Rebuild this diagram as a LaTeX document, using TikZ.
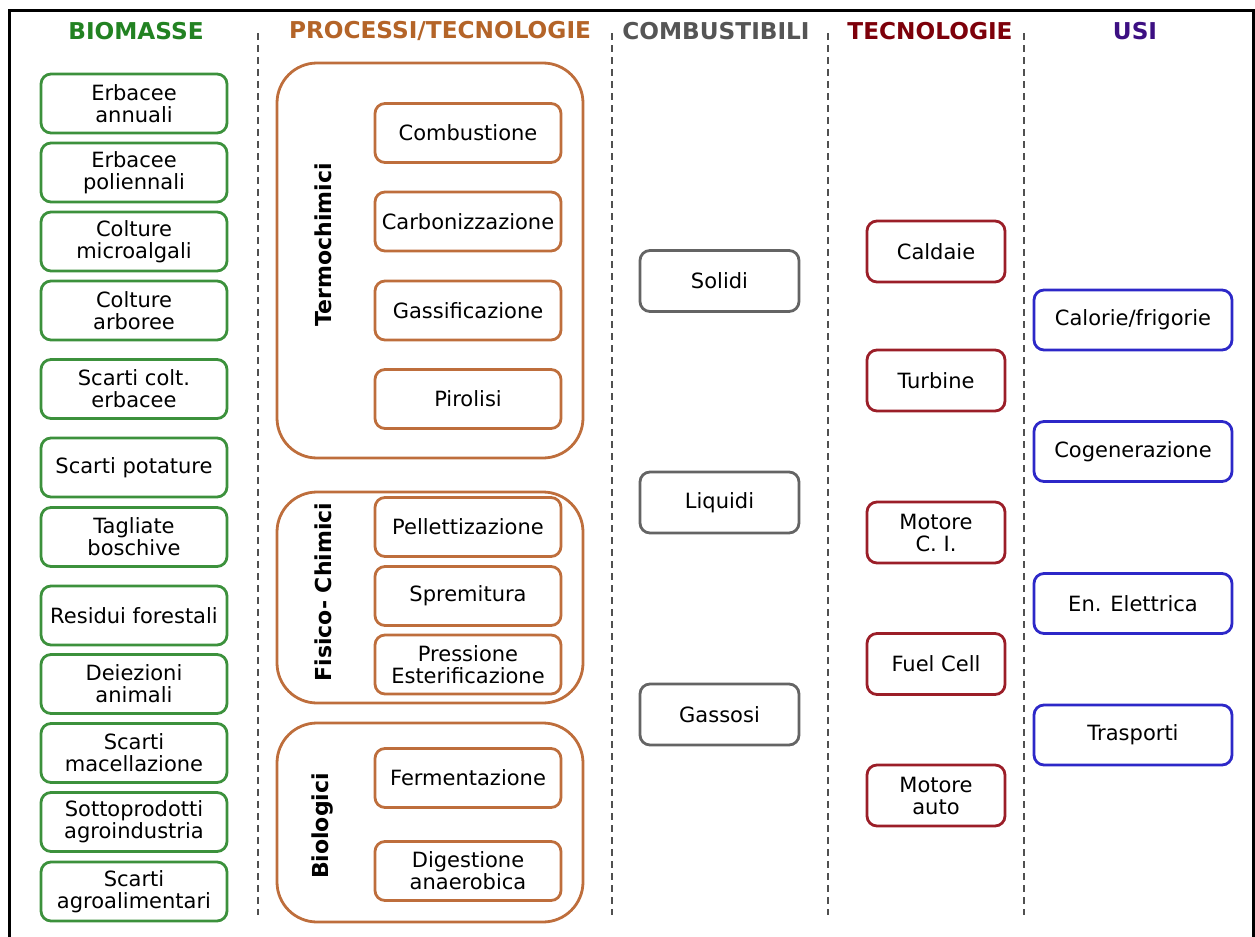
\documentclass[tikz,border=0pt]{standalone}
\usepackage{fontspec}
\setmainfont{DejaVu Sans}
\definecolor{biohead}{RGB}{34,130,34}
\definecolor{bioline}{RGB}{60,145,60}
\definecolor{prochead}{RGB}{180,100,40}
\definecolor{procline}{RGB}{190,110,60}
\definecolor{fuelhead}{RGB}{85,85,85}
\definecolor{fuelline}{RGB}{100,100,100}
\definecolor{techhead}{RGB}{125,0,10}
\definecolor{techline}{RGB}{155,30,40}
\definecolor{usehead}{RGB}{60,15,130}
\definecolor{useline}{RGB}{45,40,200}
\definecolor{sepgray}{RGB}{80,80,80}
\newcommand{\bxfont}{\fontsize{10.5}{11}\selectfont}
\newcommand{\hdfont}{\fontsize{11.6}{12}\selectfont\bfseries}
\begin{document}
\begin{tikzpicture}[x=0.5pt, y=-0.5pt,
    box/.style={draw, fill=white, rounded corners=5pt, line width=1.4pt, align=center, inner sep=0pt, font=\bxfont},
    biobox/.style={box, draw=bioline, minimum width=93pt, minimum height=29.5pt},
    procbox/.style={box, draw=procline, minimum width=93pt, minimum height=29.5pt},
    fuelbox/.style={box, draw=fuelline, minimum width=79.5pt, minimum height=30.5pt},
    techbox/.style={box, draw=techline, minimum width=69pt, minimum height=30.5pt},
    usebox/.style={box, draw=useline, minimum width=99pt, minimum height=30pt},
    group/.style={draw=procline, rounded corners=20pt, line width=1.4pt},
    grouplabel/.style={rotate=90, font=\fontsize{11}{12}\selectfont\bfseries},
    head/.style={font=\hdfont},
    sep/.style={draw=sepgray, line width=1pt, dash pattern=on 3.5pt off 2.5pt}]
  \useasboundingbox (0,0) rectangle (1255,937);
  \draw[line width=1.5pt] (9,937) -- (9,10) -- (1253,10) -- (1253,937);

  % column separators
  \foreach \xs in {258,612,828,1024}
    \draw[sep] (\xs,33) -- (\xs,915);

  % headers
  \node[head, biohead] (hbio) at (136,31) {BIOMASSE};
  \node[head, prochead] (hproc) at (440,31) {PROCESSI/TECNOLOGIE};
  \node[head, fuelhead] (hfuel) at (716,31) {COMBUSTIBILI};
  \node[head, techhead] (htech) at (930,31) {TECNOLOGIE};
  \node[head, usehead] (huse) at (1135,31) {USI};

  % biomasse
  \node[biobox] (erbann) at (134,103.5) {Erbacee\\annuali};
  \node[biobox] (erbpol) at (134,172.5) {Erbacee\\poliennali};
  \node[biobox] (colmic) at (134,241.5) {Colture\\microalgali};
  \node[biobox] (colarb) at (134,310.5) {Colture\\arboree};
  \node[biobox] (scaerb) at (134,389) {Scarti colt.\\erbacee};
  \node[biobox] (scapot) at (134,467.5) {Scarti potature};
  \node[biobox] (tagbos) at (134,537) {Tagliate\\boschive};
  \node[biobox] (resfor) at (134,615.5) {Residui forestali};
  \node[biobox] (deiani) at (134,684) {Deiezioni\\animali};
  \node[biobox] (scamac) at (134,753) {Scarti\\macellazione};
  \node[biobox] (sotagr) at (134,822) {Sottoprodotti\\agroindustria};
  \node[biobox] (scaagr) at (134,891.5) {Scarti\\agroalimentari};

  % processi
  \draw[group] (277,63) rectangle (583,458);
  \draw[group] (277,492) rectangle (583,703);
  \draw[group] (277,723) rectangle (583,922);
  \node[grouplabel] (termo) at (323,245) {Termochimici};
  \node[grouplabel] (fisico) at (323,592) {Fisico- Chimici};
  \node[grouplabel] (biolog) at (323,826) {Biologici};
  \node[procbox] (combu) at (468,133) {Combustione};
  \node[procbox] (carbo) at (468,221.5) {Carbonizzazione};
  \node[procbox] (gassi) at (468,310.5) {Gassificazione};
  \node[procbox] (pirol) at (468,399) {Pirolisi};
  \node[procbox] (pelle) at (468,527) {Pellettizazione};
  \node[procbox] (sprem) at (468,596) {Spremitura};
  \node[procbox] (press) at (468,664.5) {Pressione\\Esterificazione};
  \node[procbox] (ferme) at (468,778) {Fermentazione};
  \node[procbox] (diges) at (468,871) {Digestione\\anaerobica};

  % combustibili
  \node[fuelbox] (solidi) at (719.5,281) {Solidi};
  \node[fuelbox] (liquidi) at (719.5,502.5) {Liquidi};
  \node[fuelbox] (gassosi) at (719.5,714.5) {Gassosi};

  % tecnologie
  \node[techbox] (caldaie) at (936,251.5) {Caldaie};
  \node[techbox] (turbine) at (936,380.5) {Turbine};
  \node[techbox] (motci) at (936,532.5) {Motore\\C. I.};
  \node[techbox] (fuelcell) at (936,664) {Fuel Cell};
  \node[techbox] (motauto) at (936,795.5) {Motore\\auto};

  % usi
  \node[usebox] (calorie) at (1133,320) {Calorie/frigorie};
  \node[usebox] (cogen) at (1133,451.5) {Cogenerazione};
  \node[usebox] (enel) at (1133,603.5) {En. Elettrica};
  \node[usebox] (trasp) at (1133,735) {Trasporti};
\end{tikzpicture}
\end{document}
